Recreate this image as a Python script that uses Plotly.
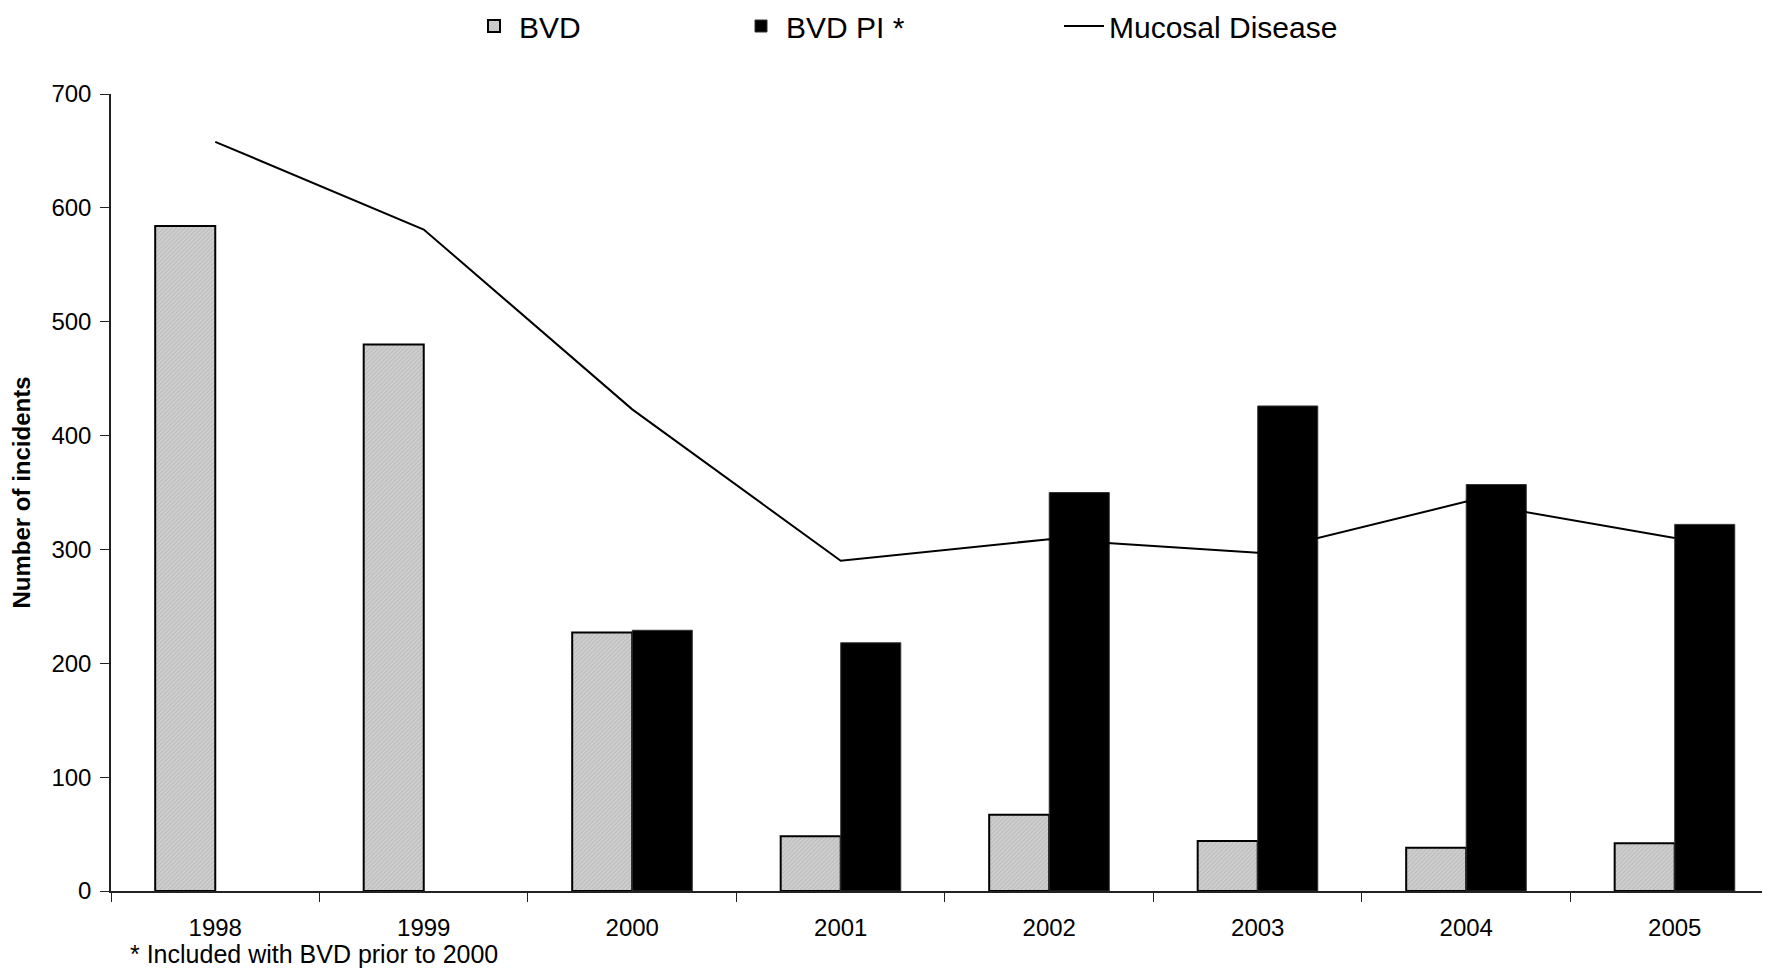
import plotly.graph_objects as go

years = ["1998", "1999", "2000", "2001", "2002", "2003", "2004", "2005"]
bvd = [584, 480, 227, 48, 67, 44, 38, 42]
bvd_pi = [None, None, 229, 218, 350, 426, 357, 322]
mucosal = [658, 581, 423, 290, 309, 297, 342, 310]
y_ticks = [0, 100, 200, 300, 400, 500, 600, 700]

# page has an 8px body margin, so the figure is sized to fill the rest
W, H = 1762, 961
FONT = "Liberation Sans, Arial, sans-serif"

fig = go.Figure()
fig.add_trace(go.Bar(
    x=years, y=bvd, name="BVD", legend="legend", showlegend=True,
    marker=dict(color="#d0d0d0", line=dict(color="black", width=2),
                pattern=dict(shape="/", fgcolor="#a0a0a0", bgcolor="#d0d0d0", size=3, solidity=0.35)),
))
fig.add_trace(go.Bar(
    x=years, y=bvd_pi, name="BVD PI *", legend="legend2", showlegend=True,
    marker=dict(color="black", line=dict(color="#333333", width=1)),
))
fig.add_trace(go.Scatter(
    x=years, y=mucosal, name="Mucosal Disease", mode="lines", legend="legend3", showlegend=True,
    line=dict(color="black", width=2),
))

def leg(xpx):
    return dict(orientation="h", xref="container", yref="container",
                x=xpx / W, y=1 - 18 / H, xanchor="left", yanchor="middle",
                font=dict(size=30, color="black", family=FONT),
                bgcolor="rgba(0,0,0,0)", itemwidth=40, itemclick=False, visible=True)

PL, PT, PB = 103, 86, 883  # plot area in figure pixels

fig.update_layout(
    width=W, height=H,
    showlegend=True,
    margin=dict(l=PL, r=0, t=PT, b=H - PB, autoexpand=False),
    paper_bgcolor="white", plot_bgcolor="white",
    barmode="group", bargap=0.424, bargroupgap=0,
    font=dict(family=FONT, color="black", size=24),
    legend=leg(461),
    legend2=leg(728),
    legend3=leg(1051),
    xaxis=dict(type="category", range=[-0.5, 7.457], showline=True, linecolor="#222",
               linewidth=1.5, ticks="outside", tickson="boundaries", ticklen=9,
               tickcolor="#222", showgrid=False, tickfont=dict(size=24),
               ticklabelstandoff=14),
    yaxis=dict(range=[0, 700], tickvals=y_ticks, showline=True, linecolor="#222",
               linewidth=1.5, ticks="outside", ticklen=9, tickcolor="#222",
               showgrid=False, zeroline=False, tickfont=dict(size=24),
               ticklabelstandoff=4,
               title=dict(text="<b>Number of incidents</b>", font=dict(size=24), standoff=22)),
    annotations=[dict(text="* Included with BVD prior to 2000", xref="paper", yref="paper",
                      x=(120 - PL) / (W - PL), y=-(946 - PB) / (PB - PT),
                      xanchor="left", yanchor="middle", showarrow=False,
                      font=dict(size=25, color="black"))],
)

fig.write_html("out.html")
